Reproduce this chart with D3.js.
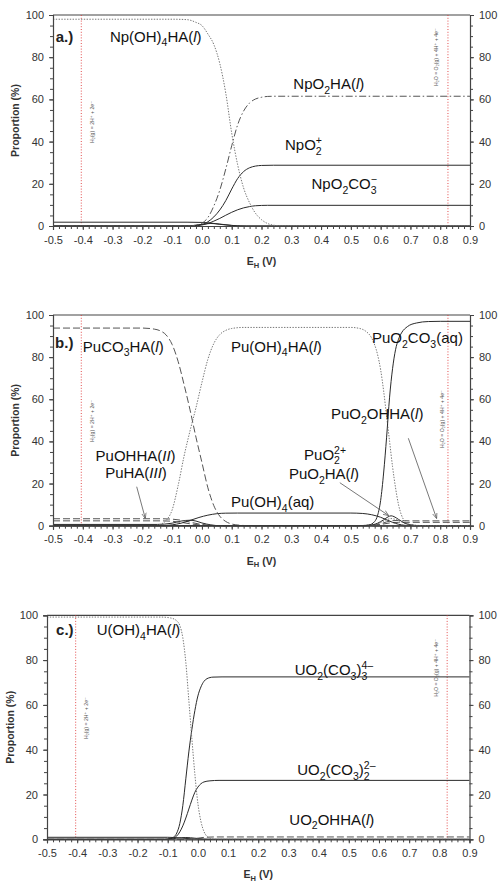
<!DOCTYPE html>
<html><head><meta charset="utf-8">
<script src="https://cdn.jsdelivr.net/npm/d3@7"></script>
<style>
html,body{margin:0;padding:0;background:#fff;}
svg text{font-family:"Liberation Sans",Arial,"DejaVu Sans",sans-serif;}
</style></head>
<body>
<svg id="chart" width="501" height="893"></svg>
<script>
// ---------- DATA ----------
const xTicks = [-0.5,-0.4,-0.3,-0.2,-0.1,0.0,0.1,0.2,0.3,0.4,0.5,0.6,0.7,0.8,0.9];
const xTickLabels = ["-0.5","-0.4","-0.3","-0.2","-0.1","0.0","0.1","0.2","0.3","0.4","0.5","0.6","0.7","0.8","0.9"];
const yTicks = [0,20,40,60,80,100];
const waterLimits = [-0.405, 0.826];

// Panel a (Np)
const npOH4HA = [[-0.5,98],[-0.1,98],[-0.05,97.8],[-0.02,96.5],[0.0,95],[0.02,91],[0.04,86],[0.06,77],[0.08,63],[0.1,44],[0.12,29],[0.14,18],[0.16,11],[0.18,6],[0.2,3],[0.22,1.2],[0.24,0.4],[0.27,0],[0.9,0]];
const npO2HA = [[-0.5,0],[-0.05,0],[-0.02,0.4],[0.0,1.3],[0.02,4],[0.04,9.5],[0.06,17],[0.08,27],[0.1,38],[0.12,48],[0.14,54.5],[0.16,58.3],[0.18,60.2],[0.2,61],[0.22,61.4],[0.25,61.5],[0.9,61.5]];
const npO2plus = [[-0.5,0],[-0.05,0],[0.0,0.7],[0.02,2],[0.04,4.3],[0.06,7.6],[0.08,12],[0.1,17.5],[0.12,22.5],[0.14,25.8],[0.16,27.6],[0.18,28.4],[0.2,28.7],[0.24,28.8],[0.9,28.8]];
const npO2CO3 = [[-0.5,0],[-0.03,0],[0.0,0.5],[0.02,1.2],[0.04,2.3],[0.06,3.6],[0.08,5.1],[0.1,6.5],[0.12,7.7],[0.14,8.6],[0.16,9.2],[0.18,9.6],[0.22,9.8],[0.9,9.8]];
const npLow = [[-0.5,1.8],[-0.05,1.8],[0.0,1.7],[0.02,1.5],[0.04,1.2],[0.06,0.8],[0.08,0.5],[0.1,0.25],[0.12,0.1],[0.15,0],[0.9,0]];
const npHump = [[-0.5,0],[-0.05,0],[0.0,0.8],[0.03,1.2],[0.06,0.9],[0.1,0.3],[0.13,0],[0.9,0]];

// Panel b (Pu)
const puCO3HA = [[-0.5,93.8],[-0.2,93.8],[-0.16,93.3],[-0.14,92.5],[-0.12,90.5],[-0.1,86],[-0.08,78],[-0.06,67],[-0.04,55],[-0.02,42],[0.0,30],[0.02,18],[0.04,9.5],[0.06,4.5],[0.08,2],[0.1,0.8],[0.13,0.2],[0.16,0],[0.9,0]];
const puOH4HA = [[-0.5,0],[-0.16,0],[-0.14,0.6],[-0.12,2.5],[-0.1,7.5],[-0.08,19],[-0.06,33],[-0.04,45],[-0.02,56],[0.0,68],[0.02,79],[0.04,86.5],[0.06,90.7],[0.08,92.7],[0.1,93.6],[0.14,94.1],[0.5,94.1],[0.53,93.6],[0.55,92.3],[0.57,89],[0.59,81],[0.6,74],[0.61,64],[0.62,52],[0.63,40],[0.64,28],[0.65,18],[0.66,10],[0.67,5],[0.68,2.3],[0.7,0.5],[0.73,0],[0.9,0]];
const puOH4aq = [[-0.5,0],[-0.14,0],[-0.1,0.4],[-0.07,1.2],[-0.04,2.5],[-0.01,3.9],[0.02,5],[0.05,5.7],[0.08,5.95],[0.12,6.0],[0.5,6.0],[0.54,5.8],[0.57,5.2],[0.6,4],[0.62,2.8],[0.64,1.6],[0.66,0.7],[0.68,0.2],[0.71,0],[0.9,0]];
const puO2CO3 = [[-0.5,0],[0.54,0],[0.56,0.3],[0.58,2],[0.59,5],[0.6,12],[0.61,25],[0.62,42],[0.63,61],[0.64,74.5],[0.65,83.5],[0.66,88.5],[0.67,91.5],[0.69,94.5],[0.72,96.2],[0.76,96.9],[0.8,97],[0.9,97]];
const puOHHA = [[-0.5,3.3],[-0.14,3.3],[-0.1,3.1],[-0.07,2.6],[-0.04,1.7],[-0.01,0.8],[0.02,0.3],[0.05,0],[0.9,0]];
const puHA = [[-0.5,2.3],[-0.14,2.3],[-0.1,2.1],[-0.07,1.6],[-0.04,0.9],[-0.01,0.4],[0.02,0.1],[0.05,0],[0.9,0]];
const puLow = [[-0.5,0.6],[-0.15,0.6],[-0.1,1.2],[-0.07,2.2],[-0.04,2.6],[-0.02,2.2],[0.0,1.3],[0.03,0.4],[0.06,0],[0.9,0]];
const puO2_2plus = [[-0.5,0],[0.5,0],[0.56,0.2],[0.59,1.2],[0.61,2.8],[0.625,4.2],[0.635,4.7],[0.645,4.3],[0.66,3],[0.68,1.3],[0.7,0.4],[0.73,0],[0.9,0]];
const puO2HA = [[-0.5,0],[0.5,0],[0.57,0.3],[0.6,1.5],[0.62,2.8],[0.635,3.4],[0.65,3],[0.67,1.8],[0.69,0.8],[0.72,0.2],[0.75,0],[0.9,0]];
const puO2OHHA = [[-0.5,0],[0.5,0],[0.57,0.2],[0.6,0.9],[0.62,1.8],[0.64,2.4],[0.66,2.5],[0.68,2.4],[0.7,2.3],[0.9,2.3]];
const puRight2 = [[-0.5,0],[0.55,0],[0.6,0.6],[0.63,1.3],[0.66,1.6],[0.7,1.6],[0.9,1.6]];

// Panel c (U)
const uOH4HA = [[-0.5,99.2],[-0.12,99.2],[-0.09,98.8],[-0.07,97.5],[-0.06,95.5],[-0.05,90],[-0.04,79],[-0.03,62],[-0.02,45],[-0.01,29],[0.0,16],[0.01,8],[0.02,3.5],[0.03,1.3],[0.04,0.4],[0.06,0],[0.9,0]];
const uO2CO3_3 = [[-0.5,0],[-0.11,0],[-0.09,0.4],[-0.08,1],[-0.07,2.8],[-0.06,7],[-0.05,15],[-0.04,27],[-0.03,39],[-0.02,49],[-0.01,57.5],[0.0,64],[0.01,68],[0.02,70.5],[0.03,71.7],[0.05,72.4],[0.08,72.5],[0.9,72.5]];
const uO2CO3_2 = [[-0.5,0],[-0.11,0],[-0.09,0.3],[-0.07,1.5],[-0.06,3.3],[-0.05,6],[-0.04,9.5],[-0.03,13.5],[-0.02,17.5],[-0.01,21],[0.0,23.3],[0.01,24.8],[0.02,25.6],[0.04,26.1],[0.07,26.3],[0.9,26.3]];
const uLow = [[-0.5,0.9],[-0.1,0.9],[-0.08,0.8],[-0.05,0.5],[-0.02,0.2],[0.01,0],[0.9,0]];
const uHump = [[-0.5,0],[-0.1,0],[-0.07,0.5],[-0.04,0.8],[-0.01,0.5],[0.02,0.1],[0.04,0],[0.9,0]];
const uO2OHHA = [[-0.5,0],[-0.03,0],[-0.01,0.3],[0.01,0.7],[0.03,0.95],[0.06,1.05],[0.9,1.05]];

// ---------- STYLES ----------
const ST = {
  solid:{stroke:"#2a2a2a",dash:null,w:1},
  dotted:{stroke:"#777",dash:"1.4,1.4",w:1},
  dashdot:{stroke:"#555",dash:"7,2.5,1.5,2.5",w:1},
  dashed:{stroke:"#555",dash:"7,3",w:1}
};

const panels = [
  {left:53,right:470,top:15,bottom:226,ytitleX:15,
   series:[[npLow,"solid"],[npHump,"solid"],[npO2CO3,"solid"],[npO2plus,"solid"],[npO2HA,"dashdot"],[npOH4HA,"dotted"]],
   tag:"a.)", tagPos:[-0.491,89.7],
   labels:[
     {e:-0.309,p:87.3,segs:[["Np(OH)"],["4","sub"],["HA("],["l","it"],[")"]]},
     {e:0.307,p:64.8,segs:[["NpO"],["2","sub"],["HA("],["l","it"],[")"]]},
     {e:0.279,p:36.0,segs:[["NpO"],["2","sub"],["+","supstack"]]},
     {e:0.368,p:17.4,segs:[["NpO"],["2","sub"],["CO"],["3","sub"],["\u2212","supstack"]]}
   ],
   eqL:{e:-0.369,p:49.3}, eqR:{e:0.788,p:80}, arrows:[]},
  {left:53,right:470,top:315,bottom:525.7,ytitleX:15,
   series:[[puLow,"solid"],[puHA,"dashed"],[puOHHA,"dashed"],[puRight2,"dashed"],[puO2OHHA,"dashed"],[puO2HA,"dotted"],[puO2_2plus,"solid"],[puOH4aq,"solid"],[puCO3HA,"dashed"],[puOH4HA,"dotted"],[puO2CO3,"solid"]],
   tag:"b.)", tagPos:[-0.493,86.6],
   labels:[
     {e:-0.400,p:82.6,segs:[["PuCO"],["3","sub"],["HA("],["l","it"],[")"]]},
     {e:0.0975,p:82.6,segs:[["Pu(OH)"],["4","sub"],["HA("],["l","it"],[")"]]},
     {e:0.571,p:86.6,segs:[["PuO"],["2","sub"],["CO"],["3","sub"],["(aq)"]]},
     {e:0.433,p:50.6,segs:[["PuO"],["2","sub"],["OHHA("],["l","it"],[")"]]},
     {e:0.343,p:31.2,segs:[["PuO"],["2","sub"],["2+","supstack"]]},
     {e:0.292,p:22.0,segs:[["PuO"],["2","sub"],["HA("],["l","it"],[")"]]},
     {e:0.0975,p:8.7,segs:[["Pu(OH)"],["4","sub"],["(aq)"]]},
     {e:-0.357,p:30.8,segs:[["PuOHHA("],["II","it"],[")"]]},
     {e:-0.325,p:22.5,segs:[["PuHA("],["III","it"],[")"]]}
   ],
   eqL:{e:-0.369,p:49.7}, eqR:{e:0.805,p:50.6},
   arrows:[[-0.219,18.5,-0.19,3.4],[0.463,20.4,0.627,4.8],[0.693,41.5,0.788,3.4]]},
  {left:47,right:469.5,top:615.3,bottom:839.3,ytitleX:10.7,
   series:[[uLow,"solid"],[uHump,"solid"],[uO2OHHA,"dashed"],[uO2CO3_2,"solid"],[uO2CO3_3,"solid"],[uOH4HA,"dotted"]],
   tag:"c.)", tagPos:[-0.470,93.4],
   labels:[
     {e:-0.335,p:91.2,segs:[["U(OH)"],["4","sub"],["HA("],["l","it"],[")"]]},
     {e:0.321,p:73.3,segs:[["UO"],["2","sub"],["(CO"],["3","sub"],[")"],["3","sub"],["4\u2013","supstack"]]},
     {e:0.329,p:28.7,segs:[["UO"],["2","sub"],["(CO"],["3","sub"],[")"],["2","sub"],["2\u2013","supstack"]]},
     {e:0.303,p:6.4,segs:[["UO"],["2","sub"],["OHHA("],["l","it"],[")"]]}
   ],
   eqL:{e:-0.371,p:54.1}, eqR:{e:0.791,p:76.5}, arrows:[]}
];

// ---------- DRAW ----------
const svg = d3.select("#chart");
svg.append("defs").append("marker")
  .attr("id","arr").attr("viewBox","0 0 10 10").attr("refX",10).attr("refY",5)
  .attr("markerWidth",7).attr("markerHeight",7).attr("orient","auto")
  .append("path").attr("d","M0,1 L10,5 L0,9").attr("fill","none").attr("stroke","#555").attr("stroke-width",1.2);

function richText(g, x, y, segs, fs, opts={}){
  const t = g.append("text").attr("x",x).attr("y",y).attr("font-size",fs)
    .attr("fill",opts.fill||"#111").attr("font-weight",opts.bold?"bold":null);
  let cur=0, prev=null;
  segs.forEach(s=>{
    const kind=s[1]||"";
    let target=0, size=fs;
    if(kind==="sub"){target=fs*0.3; size=fs*0.7;}
    if(kind==="supstack"){target=-fs*0.42; size=fs*0.7;}
    const ts=t.append("tspan").text(s[0]).attr("font-size",size).attr("dy",target-cur);
    if(kind==="it") ts.attr("font-style","italic");
    if(kind==="supstack" && prev){ ts.attr("dx",-prev.node().getComputedTextLength()); }
    cur=target; prev=ts;
  });
  return t;
}

panels.forEach(P=>{
  const x = d3.scaleLinear().domain([-0.5,0.9]).range([P.left,P.right]);
  const y = d3.scaleLinear().domain([0,100]).range([P.bottom,P.top]);
  const g = svg.append("g");

  g.append("line").attr("x1",P.left).attr("x2",P.right).attr("y1",P.top).attr("y2",P.top).attr("stroke","#444").attr("stroke-width",1.2);

  waterLimits.forEach(w=>{
    g.append("line").attr("x1",x(w)).attr("x2",x(w)).attr("y1",y(100)).attr("y2",y(0))
      .attr("stroke","#e03a3a").attr("stroke-dasharray","1,1.8").attr("stroke-width",0.9);
  });

  const line = d3.line().x(d=>x(d[0])).y(d=>y(d[1])).curve(d3.curveMonotoneX);
  P.series.forEach(([data,style])=>{
    const s=ST[style];
    g.append("path").attr("d",line(data)).attr("fill","none").attr("stroke",s.stroke)
      .attr("stroke-width",s.w).attr("stroke-dasharray",s.dash);
  });

  const minorX = d3.range(-0.5,0.9001,0.02);
  const minorY = d3.range(0,100.1,5);
  const ax = d3.axisBottom(x).tickValues(xTicks).tickFormat((d,i)=>xTickLabels[i]).tickSize(4).tickPadding(6);
  const gx = g.append("g").attr("transform",`translate(0,${P.bottom})`).call(ax);
  g.append("g").attr("transform",`translate(0,${P.bottom})`)
    .call(d3.axisBottom(x).tickValues(minorX).tickFormat("").tickSize(3))
    .select(".domain").remove();
  const gl = g.append("g").attr("transform",`translate(${P.left},0)`)
    .call(d3.axisLeft(y).tickValues(yTicks).tickSize(4).tickPadding(5));
  g.append("g").attr("transform",`translate(${P.left},0)`)
    .call(d3.axisLeft(y).tickValues(minorY).tickFormat("").tickSize(3)).select(".domain").remove();
  const gr = g.append("g").attr("transform",`translate(${P.right},0)`)
    .call(d3.axisRight(y).tickValues(yTicks).tickSize(4).tickPadding(5));
  g.append("g").attr("transform",`translate(${P.right},0)`)
    .call(d3.axisRight(y).tickValues(minorY).tickFormat("").tickSize(3)).select(".domain").remove();
  [gx,gl,gr].forEach(a=>{
    a.selectAll("text").attr("font-size",11).attr("fill","#333").attr("font-family",'"Liberation Sans",Arial,sans-serif');
  });
  g.selectAll(".domain").attr("stroke","#444").attr("stroke-width",1.2);
  g.selectAll(".tick line").attr("stroke","#444");

  const xt = g.append("text").attr("x",(P.left+P.right)/2).attr("y",P.bottom+39)
    .attr("text-anchor","middle").attr("font-size",10.5).attr("font-weight","bold").attr("fill","#333");
  xt.append("tspan").text("E");
  xt.append("tspan").text("H").attr("font-size",7.5).attr("dy",2.5);
  xt.append("tspan").text(" (V)").attr("dy",-2.5);
  g.append("text").attr("transform",`translate(${P.ytitleX},${(P.top+P.bottom)/2}) rotate(-90)`)
    .attr("text-anchor","middle").attr("dy","0.35em").attr("font-size",10.5).attr("font-weight","bold")
    .attr("fill","#333").text("Proportion (%)");

  g.append("text").attr("transform",`translate(${x(P.eqL.e)},${y(P.eqL.p)}) rotate(-90)`)
    .attr("text-anchor","middle").attr("dy","0.35em").attr("font-size",5.2).attr("fill","#555")
    .text("H\u2082(g) = 2H\u207A + 2e\u207B");
  g.append("text").attr("transform",`translate(${x(P.eqR.e)},${y(P.eqR.p)}) rotate(-90)`)
    .attr("text-anchor","middle").attr("dy","0.35em").attr("font-size",5.2).attr("fill","#555")
    .text("H\u2082O = O\u2082(g) + 4H\u207A + 4e\u207B");

  g.append("text").attr("x",x(P.tagPos[0])).attr("y",y(P.tagPos[1])).attr("dy","0.35em")
    .attr("font-size",15).attr("font-weight","bold").attr("fill","#222").text(P.tag);

  P.labels.forEach(L=>{
    richText(g, x(L.e), y(L.p), L.segs, 15);
  });

  P.arrows.forEach(a=>{
    g.append("line").attr("x1",x(a[0])).attr("y1",y(a[1])).attr("x2",x(a[2])).attr("y2",y(a[3]))
      .attr("stroke","#555").attr("stroke-width",0.8).attr("marker-end","url(#arr)");
  });
});
</script>
</body></html>
